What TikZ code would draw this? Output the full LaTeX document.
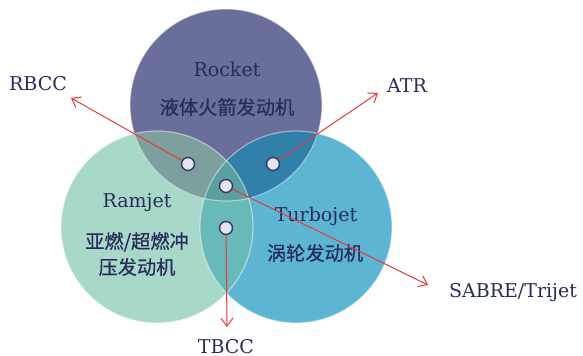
\documentclass[tikz,border=0pt]{standalone}
\usepackage{fontspec}
\setmainfont{DejaVu Serif}
\newfontfamily\cjk[FakeBold=0.6]{Noto Sans CJK SC}
\usetikzlibrary{arrows.meta}
\definecolor{rocketblue}{RGB}{106,110,155}
\definecolor{ramjetmint}{RGB}{168,216,200}
\definecolor{turbocyan}{RGB}{92,181,211}
\definecolor{rocketram}{RGB}{125,160,158}
\definecolor{rocketturbo}{RGB}{48,128,170}
\definecolor{ramturbo}{RGB}{104,186,184}
\definecolor{allthree}{RGB}{90,160,160}
\definecolor{labelnavy}{RGB}{40,44,90}
\definecolor{linkred}{RGB}{232,56,60}
\definecolor{dotfill}{RGB}{228,228,242}
\definecolor{dotrim}{RGB}{52,56,104}

\begin{document}
\begin{tikzpicture}[x=0.5pt, y=0.5pt,
    ring/.style={draw=white, draw opacity=0.45, line width=0.6pt},
    dot/.style={circle, draw=dotrim, fill=dotfill, line width=0.7pt, minimum size=6.5pt, inner sep=0pt},
    tag/.style={text=labelnavy, font=\fontsize{9.5}{11}\selectfont},
    cn/.style={text=labelnavy, font=\cjk\fontsize{9.6}{12}\selectfont},
    link/.style={draw=linkred, line width=0.5pt, -{Straight Barb[length=4pt, width=6pt]}}
  ]
    \useasboundingbox (0,0) rectangle (583,356);
    \fill[turbocyan] (296,129) circle[radius=96];
    \fill[ramjetmint] (157,129) circle[radius=96];
    \fill[rocketblue] (226,251) circle[radius=96];
    \begin{scope}
      \clip (226,251) circle[radius=96];
      \fill[rocketram] (157,129) circle[radius=96];
      \fill[rocketturbo] (296,129) circle[radius=96];
    \end{scope}
    \begin{scope}
      \clip (157,129) circle[radius=96];
      \fill[ramturbo] (296,129) circle[radius=96];
      \clip (296,129) circle[radius=96];
      \fill[allthree] (226,251) circle[radius=96];
    \end{scope}
    \draw[ring] (226,251) circle[radius=96];
    \draw[ring] (157,129) circle[radius=96];
    \draw[ring] (296,129) circle[radius=96];

    \node[tag] (rocket) at (227,287) {Rocket};
    \node[cn] (rocketcn) at (227,249) {液体火箭发动机};
    \node[tag] (ramjet) at (137,153) {Ramjet};
    \node[cn] (ramjetcn) at (137,114) {亚燃/超燃冲};
    \node[cn] (ramjetcn2) at (137,89) {压发动机};
    \node[tag] (turbojet) at (316,140) {Turbojet};
    \node[cn] (turbojetcn) at (315,103) {涡轮发动机};

    \node[tag] (rbcc) at (38,272) {RBCC};
    \node[tag] (atr) at (407,270) {ATR};
    \node[tag] (sabre) at (513,63) {SABRE/Trijet};
    \node[tag] (tbcc) at (226,9) {TBCC};
    \coordinate (rbcctip) at (71,258);
    \coordinate (atrtip) at (378,263);
    \coordinate (sabretip) at (428,71);
    \coordinate (tbcctip) at (227,29);

    \node[dot] (rr) at (188,192) {};
    \node[dot] (rt) at (273,192) {};
    \node[dot] (all) at (226,170) {};
    \node[dot] (tr) at (226,128) {};
    \draw[link] (rr) -- (rbcctip);
    \draw[link] (rt) -- (atrtip);
    \draw[link] (all) -- (sabretip);
    \draw[link] (tr) -- (tbcctip);
  \end{tikzpicture}
\end{document}
